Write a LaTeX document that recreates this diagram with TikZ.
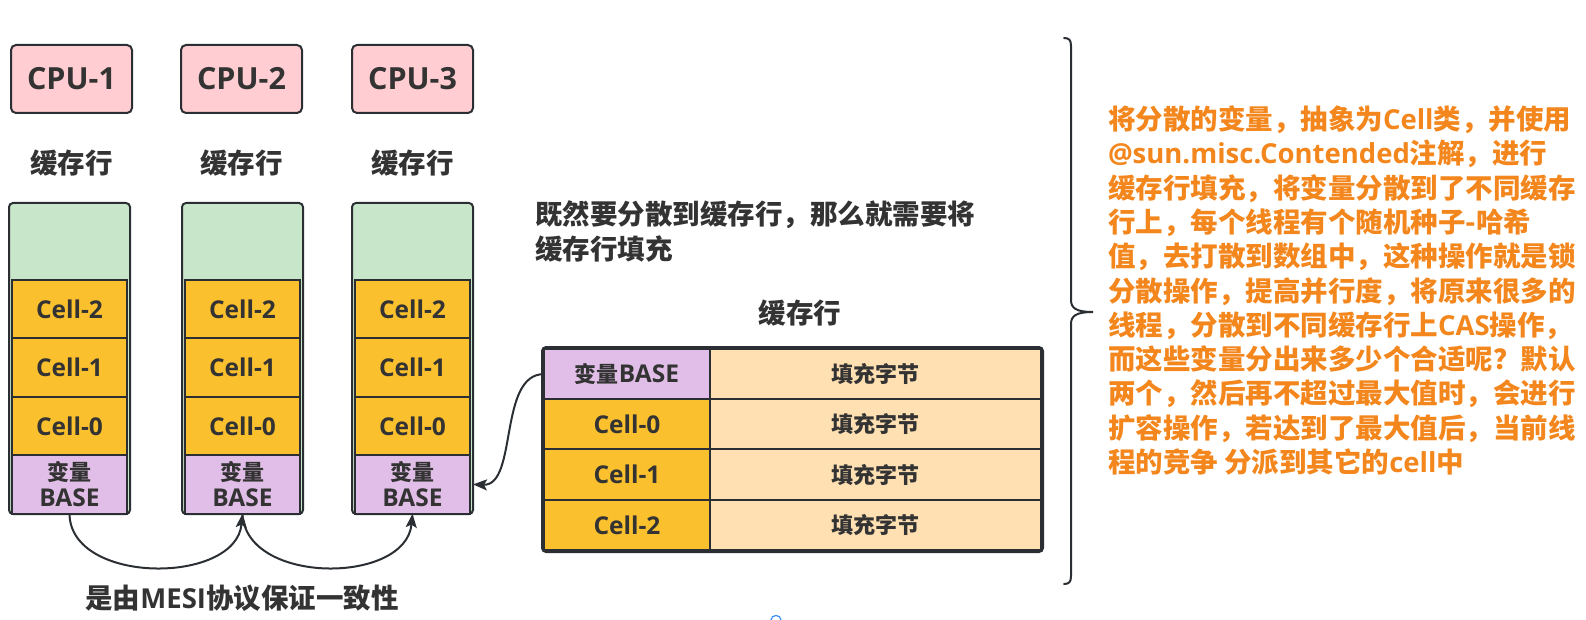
\documentclass[tikz,border=0pt]{standalone}
\usepackage{fontspec}
\setmainfont{Noto Sans CJK SC}
\newfontfamily\lat{Open Sans}
\newcommand\cl[1]{{\fontsize{24.5}{28}\selectfont\lat\bfseries #1}}
\usetikzlibrary{arrows.meta}
\definecolor{bd}{HTML}{2B2F33}
\definecolor{txt}{HTML}{333333}
\definecolor{pinkc}{HTML}{FFCDD2}
\definecolor{greenc}{HTML}{C8E6C9}
\definecolor{cellc}{HTML}{FBC02D}
\definecolor{basec}{HTML}{E1BEE7}
\definecolor{padc}{HTML}{FFE0B2}
\definecolor{orangec}{HTML}{F3861C}
\definecolor{bluec}{HTML}{3D8FEF}
\begin{document}
\begin{tikzpicture}[x=1pt,y=-1pt,
  every node/.style={inner sep=0pt, outer sep=0pt, text=txt},
  bigtxt/.style={font=\fontsize{27.5}{34}\selectfont\bfseries},
  cpu/.style={draw=bd, line width=2pt, fill=pinkc, rounded corners=5pt,
    minimum width=121pt, minimum height=68pt, font=\fontsize{30.5}{32}\selectfont\lat\bfseries},
  colbox/.style={draw=bd, line width=2pt, fill=greenc, rounded corners=4pt,
    minimum width=121pt, minimum height=311pt},
  cellbox/.style={draw=bd, line width=2pt, minimum width=115pt, minimum height=58.4pt,
    font=\fontsize{22}{28}\selectfont\bfseries, align=center},
  tcell/.style={draw=bd, line width=2pt, minimum height=50.25pt,
    font=\fontsize{22}{28}\selectfont\bfseries},
  conn/.style={draw=bd, line width=2pt, -{Stealth[length=14pt,width=11pt,inset=3pt]}}
]
\useasboundingbox (0,0) rectangle (1586,620);

% CPU boxes
\node[cpu] (cpu1) at (71.5,79) {CPU-1};
\node[cpu] (cpu2) at (241.5,79) {CPU-2};
\node[cpu] (cpu3) at (412.5,79) {CPU-3};

% labels
\node[bigtxt] (l1) at (71.5,163) {缓存行};
\node[bigtxt] (l2) at (241.5,163) {缓存行};
\node[bigtxt] (l3) at (412.5,163) {缓存行};

% columns
\foreach \i/\x in {1/69.5,2/242.5,3/412.5}{
  \node[colbox] (col\i) at (\x,358.5) {};
  \node[cellbox, fill=cellc] (c2\i) at (\x,309.2) {\cl{Cell-2}};
  \node[cellbox, fill=cellc] (c1\i) at (\x,367.6) {\cl{Cell-1}};
  \node[cellbox, fill=cellc] (c0\i) at (\x,426.0) {\cl{Cell-0}};
  \node[cellbox, fill=basec] (b\i) at (\x,484.4) {变量\\[-2pt]\cl{BASE}};
}

% MESI arrows
\draw[conn] (b1.south) .. controls (70,585) and (236,585) .. (b2.south);
\draw[conn] (b2.south) .. controls (245,585) and (406,585) .. (b3.south);
\node[bigtxt] (mesi) at (242,598) {是由{\lat\bfseries MESI}协议保证一致性};

% middle text
\node[bigtxt, anchor=west, align=left, font=\fontsize{27.5}{35}\selectfont\bfseries] (note) at (535,231.5)
  {既然要分散到缓存行，那么就需要将\\缓存行填充};

% table
\node[bigtxt] (tl) at (800,313) {缓存行};
\node[draw=bd, line width=2pt, rounded corners=4pt, minimum width=501pt, minimum height=205pt] (tab) at (792.5,449.5) {};
\node[tcell, fill=basec, minimum width=166pt] (t0) at (627,374.1) {变量\cl{BASE}};
\node[tcell, fill=cellc, minimum width=166pt] (t1) at (627,424.4) {\cl{Cell-0}};
\node[tcell, fill=cellc, minimum width=166pt] (t2) at (627,474.6) {\cl{Cell-1}};
\node[tcell, fill=cellc, minimum width=166pt] (t3) at (627,524.9) {\cl{Cell-2}};
\node[tcell, fill=padc, minimum width=331pt] (p0) at (875.5,374.1) {填充字节};
\node[tcell, fill=padc, minimum width=331pt] (p1) at (875.5,424.4) {填充字节};
\node[tcell, fill=padc, minimum width=331pt] (p2) at (875.5,474.6) {填充字节};
\node[tcell, fill=padc, minimum width=331pt] (p3) at (875.5,524.9) {填充字节};

% connector from table to column 3
\draw[conn] (t0.west) .. controls (498,374) and (518,486) .. (b3.east -| col3.east);

% brace
\draw[bd, line width=2pt, line cap=round]
  (1064,38) .. controls (1069,38) and (1071,40) .. (1071,46)
  -- (1071,300) .. controls (1071,308) and (1076,312) .. (1093,312)
  .. controls (1076,312) and (1071,316) .. (1071,324)
  -- (1071,576) .. controls (1071,582) and (1069,584) .. (1064,584);

% description
\node[anchor=west, align=left, text=orangec, font=\fontsize{27.5}{34.3}\selectfont\bfseries] (desc) at (1108,290.5)
  {将分散的变量，抽象为{\lat\bfseries Cell}类，并使用\\
   {\lat\bfseries @sun.misc.Contended}注解，进行\\
   缓存行填充，将变量分散到了不同缓存\\
   行上，每个线程有个随机种子-哈希\\
   值，去打散到数组中，这种操作就是锁\\
   分散操作，提高并行度，将原来很多的\\
   线程，分散到不同缓存行上{\lat\bfseries CAS}操作，\\
   而这些变量分出来多少个合适呢？默认\\
   两个，然后再不超过最大值时，会进行\\
   扩容操作，若达到了最大值后，当前线\\
   程的竞争 分派到其它的{\lat\bfseries cell}中};

% small blue mark
\draw[bluec, line width=1.2pt] (771,620) .. controls (771,614) and (781,614) .. (781,620);
\end{tikzpicture}
\end{document}
